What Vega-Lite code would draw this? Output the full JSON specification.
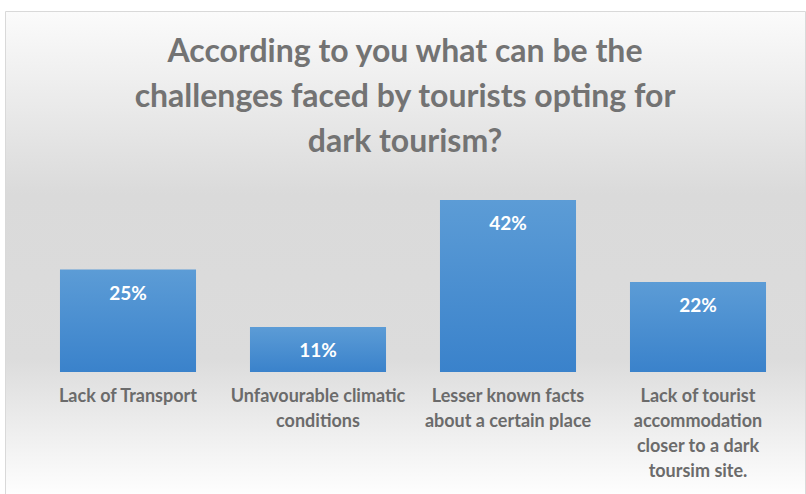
{
  "$schema": "https://vega.github.io/schema/vega-lite/v6.json",
  "width": 800,
  "height": 483,
  "autosize": {"type": "none"},
  "padding": {"left": 5, "top": 11, "right": 1, "bottom": 0},
  "background": "white",
  "config": {
    "view": {
      "stroke": "#d9d9d9",
      "strokeWidth": 1,
      "fill": {
        "gradient": "linear", "x1": 0, "y1": 0, "x2": 0, "y2": 1,
        "stops": [
          {"offset": 0, "color": "#fbfbfb"},
          {"offset": 0.38, "color": "#dadada"},
          {"offset": 0.72, "color": "#dcdcdc"},
          {"offset": 1, "color": "#fefefe"}
        ]
      }
    }
  },
  "title": {
    "text": ["According to you what can be the", "challenges faced by tourists opting for", "dark tourism?"],
    "font": "Lato",
    "fontSize": 32,
    "fontWeight": "bold",
    "color": "#737373",
    "lineHeight": 45,
    "anchor": "middle",
    "baseline": "alphabetic",
    "offset": -173
  },
  "data": {
    "values": [
      {"category": "Lack of Transport", "value": 0.25, "label": "25%"},
      {"category": "Unfavourable climatic|conditions", "value": 0.11, "label": "11%"},
      {"category": "Lesser known facts|about a certain place", "value": 0.42, "label": "42%"},
      {"category": "Lack of tourist|accommodation|closer to a dark|toursim site.", "value": 0.22, "label": "22%"}
    ]
  },
  "encoding": {
    "x": {
      "field": "category",
      "type": "nominal",
      "sort": null,
      "scale": {"range": [28, 788], "paddingInner": 0.284, "paddingOuter": 0.142},
      "axis": {
        "title": null,
        "labelAngle": 0,
        "domain": false,
        "ticks": false,
        "offset": -122,
        "labelExpr": "split(datum.label, '|')",
        "labelFont": "Lato",
        "labelFontSize": 18,
        "labelFontWeight": "bold",
        "labelColor": "#6b6b6b",
        "labelLineHeight": 25,
        "labelPadding": 15,
        "labelLimit": 300
      }
    },
    "y": {
      "field": "value",
      "type": "quantitative",
      "scale": {"domain": [-0.298, 0.8816], "nice": false, "zero": false},
      "axis": null
    }
  },
  "layer": [
    {
      "mark": {
        "type": "bar",
        "color": {
          "gradient": "linear", "x1": 0, "y1": 0, "x2": 0, "y2": 1,
          "stops": [
            {"offset": 0, "color": "#5c9cd6"},
            {"offset": 1, "color": "#3a82cb"}
          ]
        }
      },
      "encoding": {"y2": {"datum": 0}}
    },
    {
      "mark": {
        "type": "text",
        "font": "Lato",
        "fontSize": 19,
        "fontWeight": "bold",
        "color": "white",
        "baseline": "middle",
        "dy": 24
      },
      "encoding": {"text": {"field": "label"}}
    }
  ]
}
